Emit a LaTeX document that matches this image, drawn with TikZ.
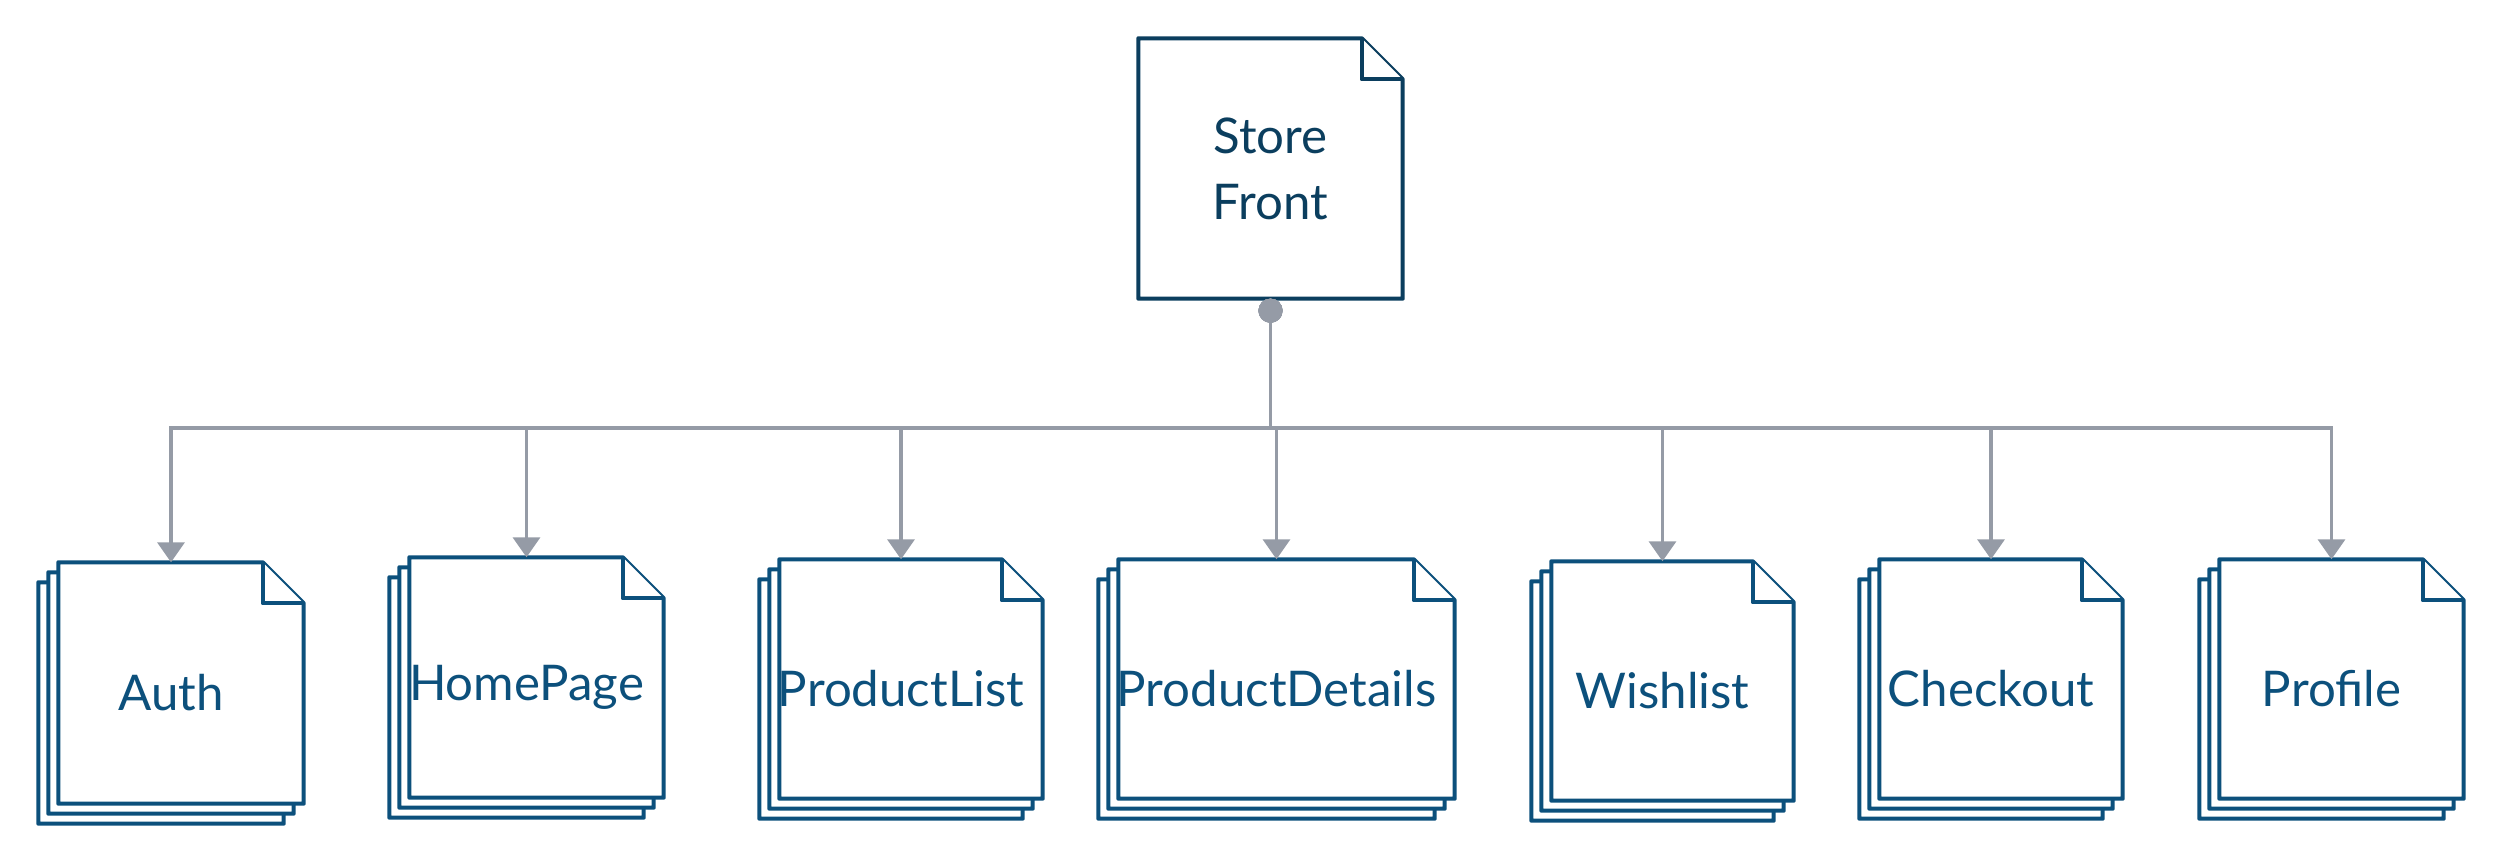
\documentclass[tikz,border=0pt]{standalone}
\usepackage{fontspec}
\setmainfont{Lato}
\usetikzlibrary{arrows.meta, backgrounds}
\definecolor{cnavy}{HTML}{0B3E5E}
\definecolor{cblue}{HTML}{0C507C}
\definecolor{cgrey}{HTML}{959BA6}
\tikzset{
  every picture/.style={font=\fontsize{14}{18.8}\selectfont},
  stack/.style={inner sep=0pt, text=cblue, align=center},
  sheet/.style={draw=#1, fill=white, line join=round, line width=1.15pt},
  sheet/.default=cblue,
  link/.style={{Circle[length=2.4mm]}-{Triangle[width=2.7mm, length=2mm]}, draw=cgrey, line width=1pt},
}
\begin{document}
\begin{tikzpicture}
  \useasboundingbox (0,0) rectangle (25.02,8.63);
  % root
  \node[stack, text=cnavy, minimum width=2.63cm, minimum height=2.59cm] (store) at (12.705,6.945) {Store\\Front};
  % pages
  \node[stack, minimum width=2.64cm, minimum height=2.60cm] (auth) at (1.71,1.70) {Auth};
  \node[stack, minimum width=2.73cm, minimum height=2.59cm] (home) at (5.265,1.755) {HomePage};
  \node[stack, minimum width=2.82cm, minimum height=2.58cm] (plist) at (9.01,1.74) {ProductList};
  \node[stack, minimum width=3.55cm, minimum height=2.58cm] (pdetails) at (12.765,1.74) {ProductDetails};
  \node[stack, minimum width=2.61cm, minimum height=2.58cm] (wish) at (16.625,1.72) {Wishlist};
  \node[stack, minimum width=2.62cm, minimum height=2.58cm] (checkout) at (19.91,1.74) {Checkout};
  \node[stack, minimum width=2.63cm, minimum height=2.58cm] (profile) at (23.315,1.74) {Profile};
  \begin{scope}[on background layer]
    \draw[sheet=cnavy] (store.north west) -- ([xshift=-0.41cm]store.north east) -- ([yshift=-0.41cm]store.north east)
      -- (store.south east) -- (store.south west) -- cycle;
    \draw[sheet=cnavy] ([xshift=-0.41cm]store.north east) |- ([yshift=-0.41cm]store.north east);
    \foreach \n in {auth,home,plist,pdetails,wish,checkout,profile} {
      \foreach \d in {0.2,0.1,0}
        \draw[sheet] ([shift={(0.2-\d,-\d)}]\n.north west) -- ([shift={(-0.41-\d,-\d)}]\n.north east)
          -- ([shift={(-\d,-0.41-\d)}]\n.north east) -- ([shift={(-\d,0.2-\d)}]\n.south east)
          -- ([shift={(0.2-\d,0.2-\d)}]\n.south west) -- cycle;
      \draw[sheet] ([xshift=-0.41cm]\n.north east) |- ([yshift=-0.41cm]\n.north east);
    }
  \end{scope}
  % links
  \coordinate (bus) at (12.705,4.35);
  \foreach \n in {auth,home,plist,pdetails,wish,checkout,profile}
    \draw[link] (store.south) -- (store.south |- bus) -| (\n.north);
\end{tikzpicture}
\end{document}
